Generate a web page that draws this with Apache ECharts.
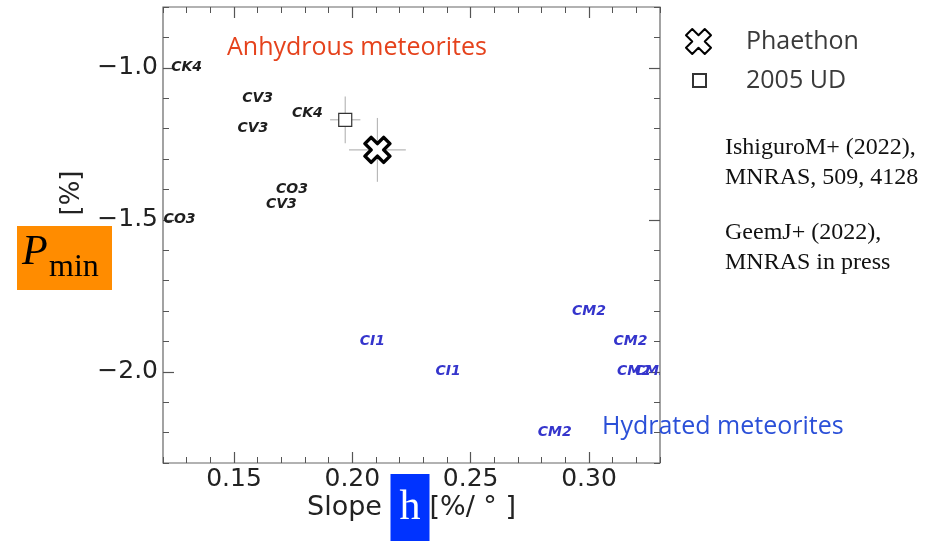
<!DOCTYPE html>
<html>
<head>
<meta charset="utf-8">
<script src="https://cdn.jsdelivr.net/npm/echarts@6/dist/echarts.min.js"></script>
<style>
  html, body { margin: 0; padding: 0; background: #fff; }
  #chart { width: 943px; height: 541px; }
</style>
</head>
<body>
<div id="chart"></div>
<script>
// tick values
const xMajorTicks = [0.15, 0.20, 0.25, 0.30]
const yMajorTicks = [-2.0, -1.5, -1.0]

// meteorite labels (slope h, Pmin)
const anhydrousNames = ['CK4', 'CV3', 'CK4', 'CV3', 'CO3', 'CV3', 'CO3']
const anhydrousSlope = [0.130, 0.160, 0.181, 0.158, 0.1745, 0.170, 0.127]
const anhydrousPmin = [-1.00, -1.10, -1.15, -1.20, -1.40, -1.45, -1.50]

const hydratedNames = ['CM2', 'CI1', 'CM2', 'CI1', 'CM2', 'CM2', 'CM2']
const hydratedSlope = [0.300, 0.2085, 0.3175, 0.2405, 0.319, 0.3265, 0.2855]
const hydratedPmin = [-1.80, -1.90, -1.90, -2.00, -2.00, -2.00, -2.20]

// asteroids
const targetNames = ['Phaethon', '2005 UD']
const targetSlope = [0.2106, 0.197]
const targetPmin = [-1.27, -1.171]
const targetSlopeErr = [0.012, 0.0064]
const targetPminErr = [0.105, 0.077]

const crossPath = 'path://M0,2.5 L2.5,0 L5,2.5 L7.5,0 L10,2.5 L7.5,5 L10,7.5 L7.5,10 L5,7.5 L2.5,10 L0,7.5 L2.5,5 Z'
const tickColor = '#555'
const labelFont = '"DejaVu Sans"'
const minus = v => v.toFixed(1).replace('-', '\u2212')

function labelSeries(names, xs, ys, color) {
  return {
    type: 'custom',
    clip: true,
    z: 3,
    data: xs.map((x, i) => [x, ys[i]]),
    renderItem: (params, api) => {
      const p = api.coord([api.value(0), api.value(1)])
      return {
        type: 'text',
        x: p[0],
        y: p[1],
        style: {
          text: names[params.dataIndex],
          fill: color,
          font: 'italic bold 14px "DejaVu Sans"',
          align: 'center',
          verticalAlign: 'middle',
        },
      }
    },
  }
}

function errorSeries(idx) {
  return {
    type: 'custom',
    z: 2,
    data: [[targetSlope[idx], targetPmin[idx], targetSlopeErr[idx], targetPminErr[idx]]],
    renderItem: (params, api) => {
      const x = api.value(0), y = api.value(1), ex = api.value(2), ey = api.value(3)
      const l = api.coord([x - ex, y]), r = api.coord([x + ex, y])
      const t = api.coord([x, y + ey]), b = api.coord([x, y - ey])
      const style = { stroke: '#b8b8b8', lineWidth: 1.2 }
      return {
        type: 'group',
        children: [
          { type: 'line', shape: { x1: l[0], y1: l[1], x2: r[0], y2: r[1] }, style },
          { type: 'line', shape: { x1: t[0], y1: t[1], x2: b[0], y2: b[1] }, style },
        ],
      }
    },
  }
}

const xBase = { type: 'value', min: 0.12, max: 0.33, splitLine: { show: false }, axisLine: { show: false } }
const yBase = { type: 'value', min: -2.3, max: -0.8, splitLine: { show: false }, axisLine: { show: false } }
const majorTick = vals => ({ inside: true, length: 11, customValues: vals, lineStyle: { color: tickColor, width: 1.2 } })
const minorTick = { inside: true, length: 6, lineStyle: { color: tickColor, width: 1 } }

const chart = echarts.init(document.getElementById('chart'), undefined, { renderer: 'canvas' })

chart.setOption({
  backgroundColor: '#fff',
  animation: false,
  grid: {
    left: 163, right: 283, top: 7, bottom: 78,
    outerBoundsMode: 'none', containLabel: false,
    show: true, borderColor: '#666', borderWidth: 1.2, backgroundColor: 'transparent',
  },
  xAxis: [
    {
      ...xBase, position: 'bottom',
      axisTick: majorTick(xMajorTicks),
      axisLabel: {
        customValues: xMajorTicks, formatter: v => v.toFixed(2),
        fontSize: 25, fontFamily: labelFont, color: '#222', margin: 4,
      },
      name: '{a|Slope }{h|h}{b|[%/ ° ]}',
      nameLocation: 'middle',
      nameGap: 11,
      nameMoveOverlap: false,
      nameTextStyle: {
        rich: {
          a: { fontSize: 27, fontFamily: labelFont, color: '#222' },
          h: {
            fontSize: 42, fontFamily: '"Liberation Serif"', color: '#fff',
            backgroundColor: '#0033ff', width: 39, height: 67, align: 'center',
          },
          b: { fontSize: 27, fontFamily: labelFont, color: '#222' },
        },
      },
    },
    { ...xBase, position: 'bottom', interval: 0.01, axisTick: minorTick, axisLabel: { show: false } },
    { ...xBase, position: 'top', axisTick: majorTick(xMajorTicks), axisLabel: { show: false } },
    { ...xBase, position: 'top', interval: 0.01, axisTick: minorTick, axisLabel: { show: false } },
  ],
  yAxis: [
    {
      ...yBase, position: 'left',
      axisTick: majorTick(yMajorTicks),
      axisLabel: {
        customValues: yMajorTicks, formatter: minus,
        fontSize: 25, fontFamily: labelFont, color: '#222', margin: 5,
      },
    },
    { ...yBase, position: 'left', interval: 0.1, axisTick: minorTick, axisLabel: { show: false } },
    { ...yBase, position: 'right', axisTick: majorTick(yMajorTicks), axisLabel: { show: false } },
    { ...yBase, position: 'right', interval: 0.1, axisTick: minorTick, axisLabel: { show: false } },
  ],
  legend: [
    {
      data: [{ name: targetNames[0], icon: crossPath }],
      left: 685, top: 28, padding: 0, itemWidth: 25, itemHeight: 25, selectedMode: false,
      textStyle: { fontSize: 25, fontFamily: '"Open Sans"', color: '#3a3a3a', padding: [0, 0, 0, 30] },
    },
    {
      data: [{ name: targetNames[1], icon: 'rect' }],
      left: 692, top: 68, padding: 0, itemWidth: 13, itemHeight: 13, selectedMode: false,
      textStyle: { fontSize: 25, fontFamily: '"Open Sans"', color: '#3a3a3a', padding: [0, 0, 0, 35] },
    },
  ],
  series: [
    labelSeries(anhydrousNames, anhydrousSlope, anhydrousPmin, '#1e1e1e'),
    labelSeries(hydratedNames, hydratedSlope, hydratedPmin, '#3535cc'),
    errorSeries(0),
    errorSeries(1),
    {
      name: targetNames[0],
      type: 'scatter',
      z: 5,
      symbol: crossPath,
      symbolSize: 25,
      data: [[targetSlope[0], targetPmin[0]]],
      itemStyle: { color: '#fff', borderColor: '#000', borderWidth: 3.5, borderJoin: 'round', opacity: 1 },
    },
    {
      name: targetNames[1],
      type: 'scatter',
      z: 5,
      symbol: 'rect',
      symbolSize: 13,
      data: [[targetSlope[1], targetPmin[1]]],
      itemStyle: { color: '#fff', borderColor: '#333', borderWidth: 1.2, opacity: 1 },
    },
  ],
  graphic: [
    {
      type: 'text', left: 227, top: 35,
      style: { text: 'Anhydrous meteorites', font: '25px "Open Sans"', fill: '#e5421c' },
    },
    {
      type: 'text', left: 602, top: 414,
      style: { text: 'Hydrated meteorites', font: '25px "Open Sans"', fill: '#2b50d8' },
    },
    {
      type: 'text', left: 725, top: 133,
      style: {
        text: 'IshiguroM+ (2022),\nMNRAS, 509, 4128',
        font: '24px "Liberation Serif"', lineHeight: 30, fill: '#111',
      },
    },
    {
      type: 'text', left: 725, top: 218,
      style: {
        text: 'GeemJ+ (2022),\nMNRAS in press',
        font: '24px "Liberation Serif"', lineHeight: 30, fill: '#111',
      },
    },
    {
      type: 'text', x: 72, y: 193, rotation: Math.PI / 2,
      style: { text: '[%]', font: '26px "DejaVu Sans"', fill: '#222', align: 'center', verticalAlign: 'middle' },
    },
    {
      type: 'group', left: 17, top: 226,
      children: [
        { type: 'rect', shape: { x: 0, y: 0, width: 95, height: 64 }, style: { fill: '#ff8c00' } },
        {
          type: 'text', x: 5, y: 48,
          style: { text: 'P', font: 'italic 42px "Liberation Serif"', fill: '#000', verticalAlign: 'bottom' },
        },
        {
          type: 'text', x: 32, y: 58,
          style: { text: 'min', font: '32px "Liberation Serif"', fill: '#000', verticalAlign: 'bottom' },
        },
      ],
    },
  ],
})
</script>
</body>
</html>
